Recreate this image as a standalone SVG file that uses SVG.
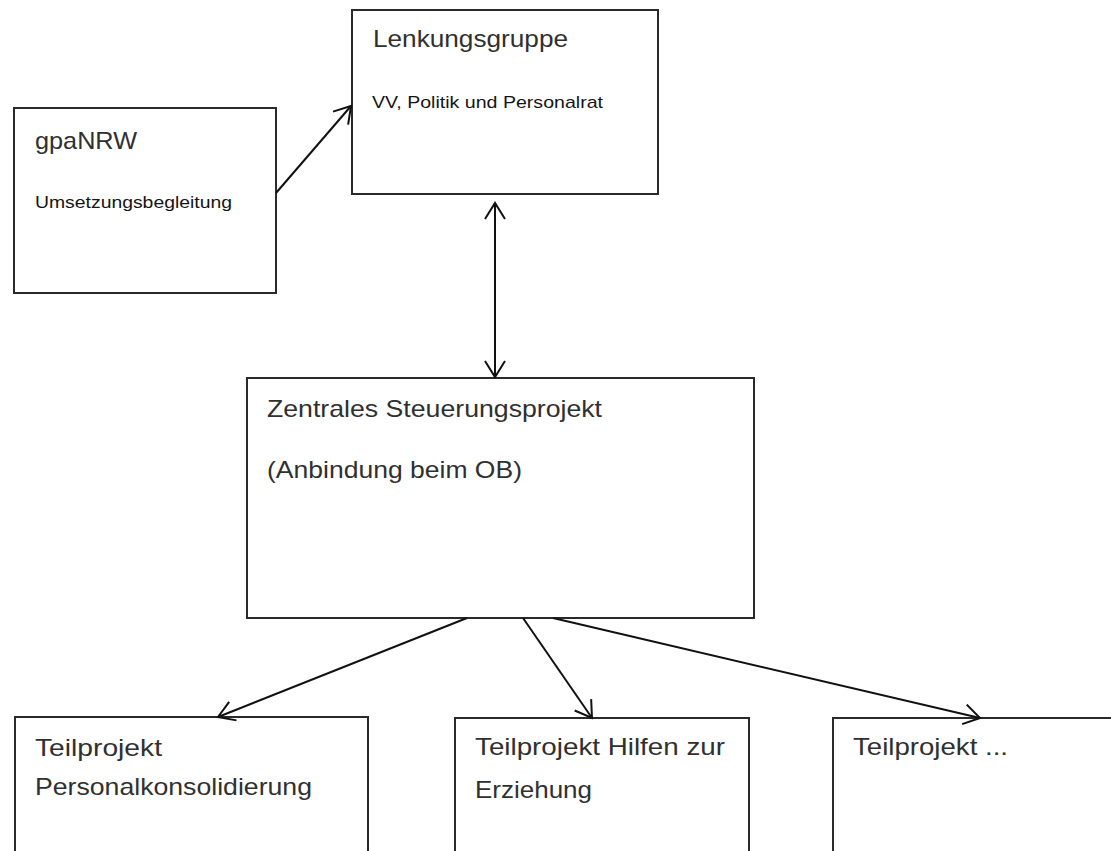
<svg xmlns="http://www.w3.org/2000/svg" width="1111" height="851" viewBox="0 0 1111 851">
  <style>
    .box { fill: #ffffff; stroke: #2a2a2a; stroke-width: 2; }
    .t { font-family: "Liberation Sans", Arial, sans-serif; }
    .big { font-size: 24px; fill: #303030; }
    .small { font-size: 17px; fill: #151515; }
    .conn { stroke: #111111; stroke-width: 2; fill: none; }
  </style>
  <defs>
    <marker id="arrow" markerUnits="userSpaceOnUse" markerWidth="20" markerHeight="22" viewBox="0 0 20 22" refX="17" refY="11" orient="auto-start-reverse">
      <path d="M1,1 L17,11 L1,21" fill="none" stroke="#111111" stroke-width="2"/>
    </marker>
  </defs>
  <rect width="1111" height="851" fill="#ffffff"/>

  <g id="lenkungsgruppe">
    <rect class="box" x="352" y="10" width="306" height="184"/>
    <text class="t big" x="373" y="47" textLength="195" lengthAdjust="spacingAndGlyphs">Lenkungsgruppe</text>
    <text class="t small" x="372" y="108" textLength="231" lengthAdjust="spacingAndGlyphs">VV, Politik und Personalrat</text>
  </g>

  <g id="gpanrw">
    <rect class="box" x="14" y="108" width="262" height="185"/>
    <text class="t big" x="35" y="149" textLength="102" lengthAdjust="spacingAndGlyphs">gpaNRW</text>
    <text class="t small" x="35" y="208" textLength="197" lengthAdjust="spacingAndGlyphs">Umsetzungsbegleitung</text>
  </g>

  <g id="zentrales">
    <rect class="box" x="247" y="378" width="507" height="240"/>
    <text class="t big" x="267" y="417" textLength="335" lengthAdjust="spacingAndGlyphs">Zentrales Steuerungsprojekt</text>
    <text class="t big" x="267" y="478" textLength="255" lengthAdjust="spacingAndGlyphs">(Anbindung beim OB)</text>
  </g>

  <g id="teilprojekt1">
    <rect class="box" x="15" y="717" width="353" height="200"/>
    <text class="t big" x="35" y="756" textLength="127" lengthAdjust="spacingAndGlyphs">Teilprojekt</text>
    <text class="t big" x="35" y="795" textLength="277" lengthAdjust="spacingAndGlyphs">Personalkonsolidierung</text>
  </g>

  <g id="teilprojekt2">
    <rect class="box" x="455" y="718" width="294" height="200"/>
    <text class="t big" x="475" y="755" textLength="250" lengthAdjust="spacingAndGlyphs">Teilprojekt Hilfen zur</text>
    <text class="t big" x="475" y="798" textLength="117" lengthAdjust="spacingAndGlyphs">Erziehung</text>
  </g>

  <g id="teilprojekt3">
    <rect class="box" x="833" y="718" width="320" height="200"/>
    <text class="t big" x="853" y="755" textLength="155" lengthAdjust="spacingAndGlyphs">Teilprojekt ...</text>
  </g>

  <g id="connectors">
    <line class="conn" x1="276" y1="193" x2="351" y2="106" marker-end="url(#arrow)"/>
    <line class="conn" x1="495" y1="203" x2="495" y2="377" marker-start="url(#arrow)" marker-end="url(#arrow)"/>
    <line class="conn" x1="467" y1="618" x2="218" y2="717" marker-end="url(#arrow)"/>
    <line class="conn" x1="523" y1="618" x2="592" y2="718" marker-end="url(#arrow)"/>
    <line class="conn" x1="553" y1="618" x2="980" y2="718" marker-end="url(#arrow)"/>
  </g>
</svg>
